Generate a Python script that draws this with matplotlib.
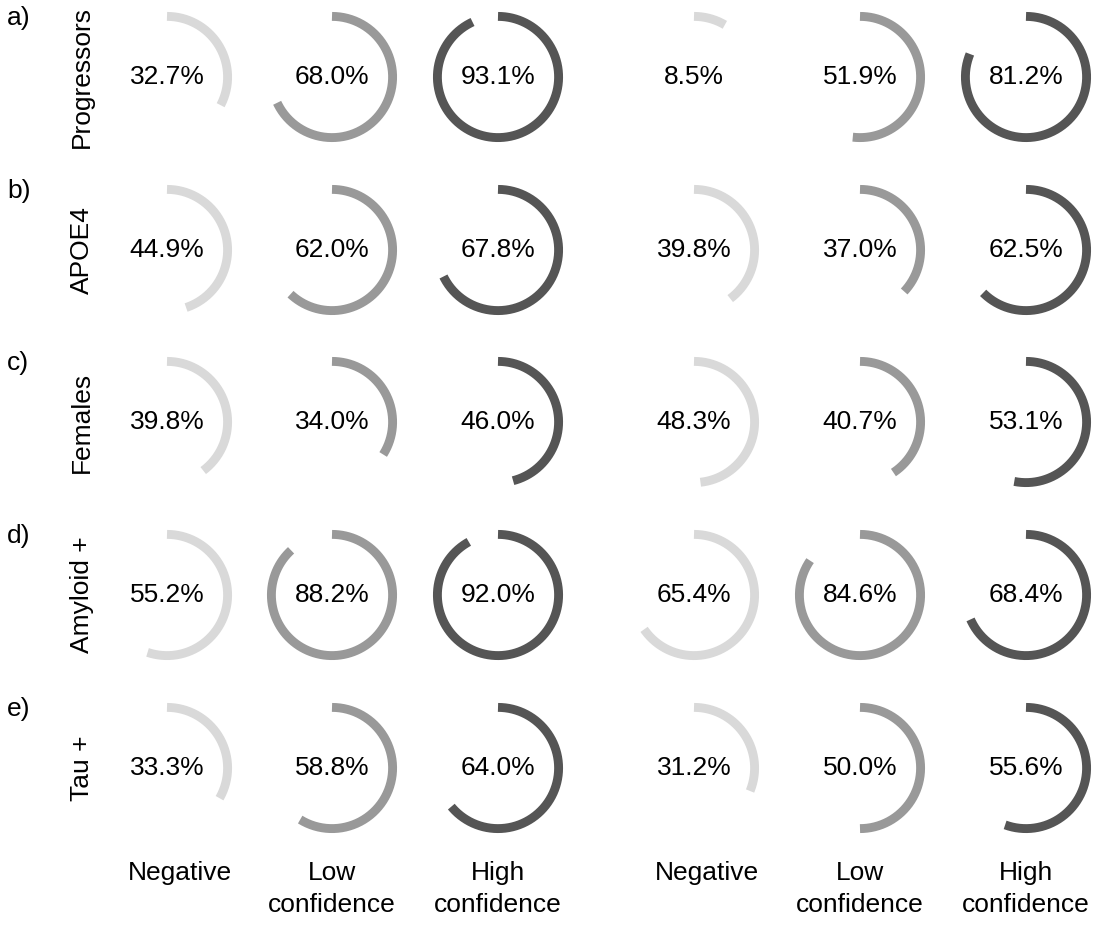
import numpy as np
import matplotlib
matplotlib.use("Agg")
import matplotlib.pyplot as plt

# Percentages per row: [Negative, Low confidence, High confidence]
rows = ["Progressors", "APOE4", "Females", "Amyloid +", "Tau +"]
letters = ["a)", "b)", "c)", "d)", "e)"]
left_vals = [
    [32.7, 68.0, 93.1],
    [44.9, 62.0, 67.8],
    [39.8, 34.0, 46.0],
    [55.2, 88.2, 92.0],
    [33.3, 58.8, 64.0],
]
right_vals = [
    [8.5, 51.9, 81.2],
    [39.8, 37.0, 62.5],
    [48.3, 40.7, 53.1],
    [65.4, 84.6, 68.4],
    [31.2, 50.0, 55.6],
]
col_labels = ["Negative", "Low\nconfidence", "High\nconfidence"]
colors = ["#d9d9d9", "#999999", "#555555"]

W, H = 1093, 925
fig = plt.figure(figsize=(W / 100, H / 100), dpi=100)
ax = fig.add_axes([0, 0, 1, 1])
ax.set_xlim(0, W)
ax.set_ylim(H, 0)
ax.axis("off")

plt.rcParams["font.family"] = ["Liberation Sans", "DejaVu Sans"]
fs = 19

col_x = [167, 332, 498, 694, 860, 1026]
row_y = [77, 250, 422, 595, 768]
r = 60.6
label_shift = [13, 0, 0]  # "Negative" sits a bit right of its column

for i, name in enumerate(rows):
    cy = row_y[i]
    vals = left_vals[i] + right_vals[i]
    for j, v in enumerate(vals):
        cx = col_x[j]
        t = np.linspace(0, 2 * np.pi * v / 100, 400)
        ax.plot(cx + r * np.sin(t), cy - r * np.cos(t), color=colors[j % 3],
                lw=6.4, solid_capstyle="butt")
        ax.text(cx, cy, f"{v:.1f}%", ha="center", va="center", fontsize=fs)
    ax.text(82, cy, name, rotation=90, ha="center", va="center", fontsize=fs)
    ax.text(7, cy - 59, letters[i], ha="left", va="center", fontsize=fs)

for j, cx in enumerate(col_x):
    ax.text(cx + label_shift[j % 3], 861, col_labels[j % 3], ha="center",
            va="top", fontsize=fs, linespacing=1.4)

fig.savefig("out.png", dpi=100)
